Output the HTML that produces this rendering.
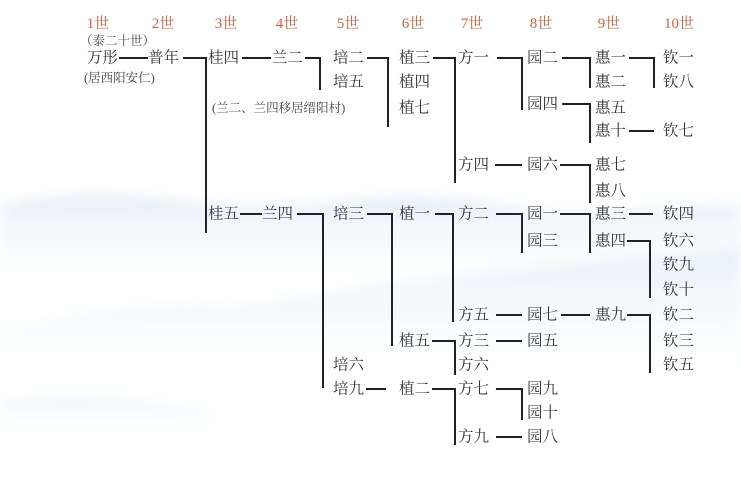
<!DOCTYPE html>
<html><head><meta charset="utf-8"><style>
html,body{margin:0;padding:0;background:#fff;}
svg{display:block;}
text{font-family:"Liberation Serif","Noto Serif CJK SC","Noto Sans CJK SC",serif;font-size:15.5px;fill:#333;dominant-baseline:central;}
.h{fill:#d0603a;font-size:15px;}
.s{font-size:12.5px;fill:#444;}
</style></head><body>
<svg width="741" height="483" viewBox="0 0 741 483" xmlns="http://www.w3.org/2000/svg">
<defs>
<linearGradient id="g1" x1="0" y1="0" x2="0" y2="1">
<stop offset="0" stop-color="#d9e9f3" stop-opacity="0.7"/>
<stop offset="1" stop-color="#ffffff" stop-opacity="0"/>
</linearGradient>
<linearGradient id="g2" x1="0" y1="0" x2="0" y2="1">
<stop offset="0" stop-color="#dcebf5" stop-opacity="0.7"/>
<stop offset="1" stop-color="#ffffff" stop-opacity="0"/>
</linearGradient>
<filter id="b"><feGaussianBlur stdDeviation="6"/></filter>
</defs>
<g filter="url(#b)">
<path d="M0,205 C60,190 120,192 180,200 C240,208 300,205 360,198 C430,192 480,200 540,210 C600,218 680,200 741,205 L741,300 L0,300 Z" fill="url(#g1)"/>
<path d="M0,330 C80,310 150,300 230,305 C300,300 360,285 420,280 C500,270 600,260 741,250 L741,380 L0,400 Z" fill="url(#g2)"/>
<path d="M0,400 C60,390 140,395 220,410 L220,450 L0,450 Z" fill="url(#g2)" opacity="0.5"/>
</g>
<g>
<text class="h" x="98" y="24" text-anchor="middle">1世</text>
<text class="h" x="163" y="24" text-anchor="middle">2世</text>
<text class="h" x="226" y="24" text-anchor="middle">3世</text>
<text class="h" x="287" y="24" text-anchor="middle">4世</text>
<text class="h" x="348" y="24" text-anchor="middle">5世</text>
<text class="h" x="413" y="24" text-anchor="middle">6世</text>
<text class="h" x="472" y="24" text-anchor="middle">7世</text>
<text class="h" x="541" y="24" text-anchor="middle">8世</text>
<text class="h" x="609" y="24" text-anchor="middle">9世</text>
<text class="h" x="679" y="24" text-anchor="middle">10世</text>
</g>
<text class="s" x="80" y="41">（泰二十世）</text>
<text class="s" x="84" y="78">(居西阳安仁)</text>
<text class="s" x="212" y="108">(兰二、兰四移居缙阳村)</text>
<g stroke="#222" stroke-width="2" fill="none">
<path d="M119,58H148"/><path d="M183,58H206V233"/><path d="M242,58H271"/>
<path d="M305,58H320V90"/><path d="M367,58H388V127"/><path d="M433,58H455V183"/>
<path d="M497,58H522V110"/><path d="M562,58H590V88"/><path d="M562,104H590V143"/>
<path d="M629,58H654V88"/><path d="M629,131H654"/>
<path d="M495,165H522"/><path d="M560,165H590V203"/>
<path d="M240,214H262"/><path d="M297,214H323V388"/><path d="M367,214H392V346"/>
<path d="M435,214H453V322"/><path d="M496,214H522V253"/><path d="M560,214H590V253"/>
<path d="M629,214H653"/><path d="M627,241H650V298"/>
<path d="M496,315H522"/><path d="M561,315H590"/><path d="M627,315H650V373"/>
<path d="M432,341H455V375"/><path d="M496,341H522"/>
<path d="M366,389H386"/><path d="M432,389H455V445"/><path d="M496,389H522V420"/><path d="M496,437H522"/>
</g>
<g>
<text x="87" y="58">万彤</text><text x="148" y="58">普年</text>
<text x="208" y="58">桂四</text><text x="272" y="58">兰二</text>
<text x="333" y="58">培二</text><text x="333" y="82">培五</text>
<text x="399" y="58">植三</text><text x="399" y="82">植四</text><text x="399" y="108">植七</text>
<text x="458" y="58">方一</text><text x="458" y="165">方四</text>
<text x="527" y="58">园二</text><text x="527" y="104">园四</text><text x="527" y="165">园六</text>
<text x="595" y="58">惠一</text><text x="595" y="82">惠二</text><text x="595" y="108">惠五</text><text x="595" y="131">惠十</text>
<text x="595" y="165">惠七</text><text x="595" y="191">惠八</text>
<text x="663" y="58">钦一</text><text x="663" y="82">钦八</text><text x="663" y="131">钦七</text>
<text x="208" y="214">桂五</text><text x="262" y="214">兰四</text>
<text x="333" y="214">培三</text><text x="333" y="365">培六</text><text x="333" y="389">培九</text>
<text x="399" y="214">植一</text><text x="399" y="341">植五</text><text x="399" y="389">植二</text>
<text x="458" y="214">方二</text><text x="458" y="315">方五</text><text x="458" y="341">方三</text><text x="458" y="365">方六</text><text x="458" y="389">方七</text><text x="458" y="437">方九</text>
<text x="527" y="214">园一</text><text x="527" y="241">园三</text><text x="527" y="315">园七</text><text x="527" y="341">园五</text><text x="527" y="389">园九</text><text x="527" y="413">园十</text><text x="527" y="437">园八</text>
<text x="595" y="214">惠三</text><text x="595" y="241">惠四</text><text x="595" y="315">惠九</text>
<text x="663" y="214">钦四</text><text x="663" y="241">钦六</text><text x="663" y="265">钦九</text><text x="663" y="290">钦十</text>
<text x="663" y="315">钦二</text><text x="663" y="341">钦三</text><text x="663" y="365">钦五</text>
</g>
</svg>
</body></html>
